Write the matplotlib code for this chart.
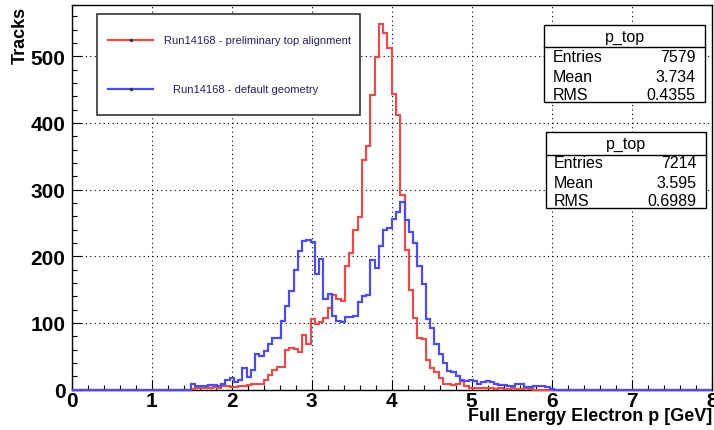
import numpy as np
import matplotlib
matplotlib.use('Agg')
import matplotlib.pyplot as plt
from matplotlib.patches import Rectangle
from matplotlib.lines import Line2D
from matplotlib.ticker import MultipleLocator

plt.rcParams['font.family'] = ['Liberation Sans', 'DejaVu Sans']

# %% data: 150 bins over 0-8 GeV, counts listed from bin 24 on (rest empty)
n_bins = 150
x_range = (0, 8)
first_bin = 24
red_counts = [0, 0, 0, 0, 1, 2, 3, 3, 2, 4, 3, 6, 5, 4, 4, 6, 6, 7, 8, 8, 9, 14, 22, 30, 34, 34,
              60, 62, 61, 56, 82, 68, 106, 99, 101, 107, 123, 142, 136, 133, 185, 205, 240, 259,
              345, 366, 442, 499, 549, 535, 513, 443, 412, 292, 210, 150, 108, 77, 76, 44, 32, 27,
              18, 9, 8, 7, 9, 13, 5, 3, 3, 2, 2, 3, 2, 1, 2, 1, 1, 2, 1, 1, 2, 1]
blue_counts = [0, 0, 0, 0, 9, 6, 5, 6, 7, 7, 5, 8, 15, 17, 11, 15, 33, 19, 30, 53, 50, 58, 68, 77, 77, 103,
               126, 148, 180, 208, 223, 225, 222, 174, 196, 136, 143, 111, 103, 102, 109, 109, 111,
               132, 140, 142, 194, 182, 215, 239, 242, 256, 266, 281, 255, 236, 220, 186, 158, 106,
               93, 68, 53, 40, 28, 26, 20, 14, 13, 15, 13, 9, 12, 13, 11, 8, 7, 7, 6, 6, 8, 8, 4, 4,
               5, 6, 5, 4, 1]
red_label = 'Run14168 - preliminary top alignment'
blue_label = 'Run14168 - default geometry'
red_stats = [('Entries', '7579'), ('Mean', '3.734'), ('RMS', '0.4355')]
blue_stats = [('Entries', '7214'), ('Mean', '3.595'), ('RMS', '0.6989')]
stats_title = 'p_top'
x_ticks = [0, 1, 2, 3, 4, 5, 6, 7, 8]
y_ticks = [0, 100, 200, 300, 400, 500]

RED = '#df4f4f'
BLUE = '#4d4ddf'

edges = np.linspace(x_range[0], x_range[1], n_bins + 1)


def full(counts):
    h = np.zeros(n_bins)
    h[first_bin:first_bin + len(counts)] = counts
    return h


red_h = full(red_counts)
blue_h = full(blue_counts)

# %% figure in pixel units
W, H = 714, 431
fig = plt.figure(figsize=(W / 100, H / 100), dpi=100)


def fx(x):
    return x / W


def fy(y):
    return 1 - y / H


ax = fig.add_axes([fx(71.7), fy(390.7), 640 / W, 384.5 / H])
ax.stairs(red_h, edges, color=RED, lw=1.6, clip_on=False, zorder=3)
ax.stairs(blue_h, edges, color=BLUE, lw=1.6, clip_on=False, zorder=4)
ax.set_xlim(*x_range)
ax.set_ylim(0, 1.05 * red_h.max())
ax.set_xticks(x_ticks)
ax.set_yticks(y_ticks)
ax.xaxis.set_minor_locator(MultipleLocator(0.2))
ax.yaxis.set_minor_locator(MultipleLocator(20))
ax.tick_params(which='both', direction='in', top=False, right=False, width=0.8, color='black')
ax.tick_params(which='major', length=7.5, labelsize=15)
ax.tick_params(which='minor', length=3.6)
ax.tick_params(axis='x', pad=1)
ax.tick_params(axis='y', pad=4.5)
for lbl in ax.get_xticklabels() + ax.get_yticklabels():
    lbl.set_fontweight('bold')
ax.grid(True, which='major', color='black', linestyle=(0, (1, 3)), linewidth=0.8)
ax.set_axisbelow(True)
for s in ax.spines.values():
    s.set_linewidth(1.0)

fig.text(fx(712), fy(416.5), 'Full Energy Electron p [GeV]', ha='right', va='center',
         fontsize=13, fontweight='bold')
fig.text(fx(20), fy(7), 'Tracks', rotation=90, ha='center', va='top',
         fontsize=13, fontweight='bold')


def rect(x0, y0, x1, y1, lw=1.0, ec='black'):
    fig.add_artist(Rectangle((fx(x0), fy(y1)), (x1 - x0) / W, (y1 - y0) / H,
                             transform=fig.transFigure, fc='white', ec=ec, lw=lw, zorder=5))


def hline(x0, x1, y, **kw):
    fig.add_artist(Line2D([fx(x0), fx(x1)], [fy(y), fy(y)], transform=fig.transFigure,
                          zorder=6, **kw))


# %% legend
rect(97.3, 15, 360, 116, lw=1.2, ec='#333333')
for y, col, label, tx in [(40.7, RED, red_label, 164), (90, BLUE, blue_label, 172.7)]:
    hline(108, 153, y, color=col, lw=1.6)
    fig.add_artist(Line2D([fx(130.5)], [fy(y)], transform=fig.transFigure, marker='o',
                          ms=1.5, color='#333333', zorder=7))
    fig.text(fx(tx), fy(y), label, ha='left', va='center', fontsize=8, color='#22225a', zorder=7)


# %% stat boxes
def stats_box(x0, x1, y0, y_div, y1, title_y, row_ys, rows):
    rect(x0, y0, x1, y1)
    hline(x0, x1, y_div, color='black', lw=1.0)
    fig.text(fx((x0 + x1) / 2), fy(title_y), stats_title, ha='center', va='center',
             fontsize=11.5, zorder=7)
    for yy, (name, val) in zip(row_ys, rows):
        fig.text(fx(x0 + 8.5), fy(yy), name, ha='left', va='center', fontsize=11.5, zorder=7)
        fig.text(fx(x1 - 9.5), fy(yy), val, ha='right', va='center', fontsize=11.5, zorder=7)


stats_box(544.3, 705, 26, 48.3, 102.7, 37.3, [57.3, 77.3, 96], red_stats)
stats_box(545.7, 706, 133.3, 156, 209.3, 144, [164, 183.3, 201.7], blue_stats)

fig.savefig('out.png', dpi=100)
